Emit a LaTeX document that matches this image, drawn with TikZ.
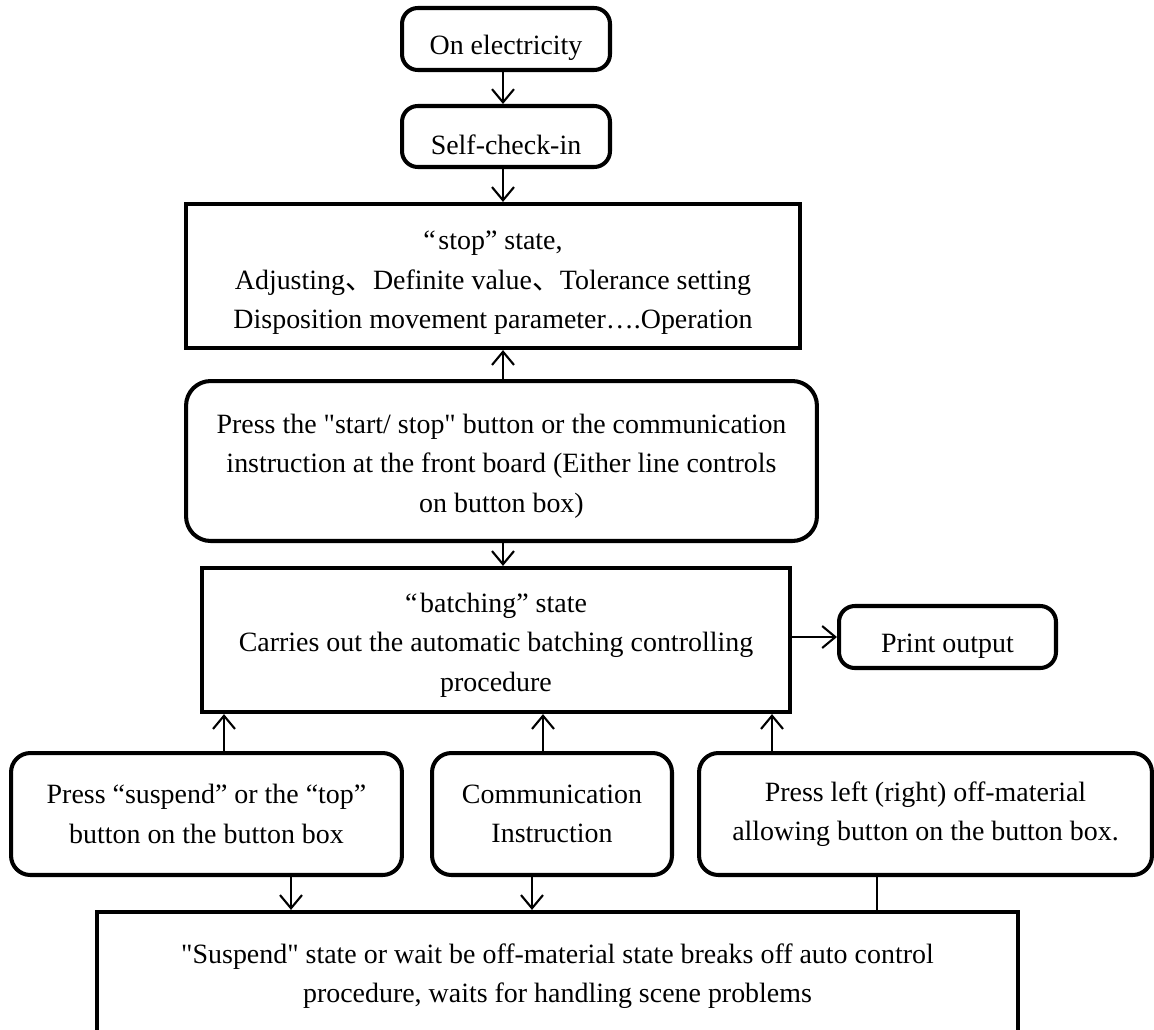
\documentclass[tikz,border=0pt]{standalone}
\usepackage{fontspec}
\newfontfamily\serifplain{Liberation Serif}
\newfontfamily\cjk{Noto Sans CJK SC}
\usetikzlibrary{arrows.meta}
\newcommand\dn[1]{\rule{0pt}{#1}}
\newcommand\wq{“\hspace{1.5pt}}
\begin{document}
\begin{tikzpicture}[x=0.02cm,y=-0.02cm,
  font={\serifplain\fontsize{15.9}{22.5}\selectfont},
  rbox/.style={draw, line width=2.3pt, rounded corners=9pt, align=center, inner sep=0pt},
  sbox/.style={draw, line width=2.4pt, align=center, inner sep=0pt},
  arr/.style={-{Straight Barb[length=7.5pt,width=12.5pt,line width=1.2pt]}, line width=1.2pt},
  plain/.style={line width=1.2pt},
]
\useasboundingbox (0,0) rectangle (1154,1029);

\node[rbox, minimum width=4.16cm, minimum height=1.24cm] (elec) at (506,39) {\dn{21.5pt}On electricity};
\node[rbox, minimum width=4.16cm, minimum height=1.22cm] (self) at (506,136.5) {\dn{20.5pt}Self-check-in};
\node[sbox, minimum width=12.28cm, minimum height=2.88cm] (stop) at (493,276)
  {\dn{18.5pt}\wq stop” state,\\Adjusting{\cjk 、}Definite value{\cjk 、}Tolerance setting\\Disposition movement parameter….Operation};
\node[rbox, rounded corners=14pt, minimum width=12.62cm, minimum height=3.2cm] (start) at (501.5,461)
  {\dn{16.5pt}Press the "start/ stop" button or the communication\\instruction at the front board (Either line controls\\on button box)};
\node[sbox, minimum width=11.76cm, minimum height=2.88cm] (batch) at (496,640)
  {\dn{16.5pt}\wq batching” state\\Carries out the automatic batching controlling\\procedure};
\node[rbox, minimum width=4.34cm, minimum height=1.24cm] (print) at (947.5,637) {\dn{20.5pt}Print output};
\node[rbox, rounded corners=11pt, minimum width=7.82cm, minimum height=2.44cm] (sus) at (206.5,814)
  {Press “suspend” or the “top”\\button on the button box};
\node[rbox, rounded corners=11pt, minimum width=4.8cm, minimum height=2.44cm] (comm) at (552,814)
  {Communication\\Instruction};
\node[rbox, rounded corners=11pt, minimum width=9.06cm, minimum height=2.44cm] (right) at (925.5,814)
  {Press left (right) off-material\\allowing button on the button box.};
\node[sbox, minimum width=18.42cm, minimum height=2.56cm] (bottom) at (557.5,976)
  {"Suspend" state or wait be off-material state breaks off auto control\\procedure, waits for handling scene problems};

\coordinate (cm) at (503,0);
\coordinate (ca) at (224,0);
\coordinate (cb) at (543,0);
\coordinate (cc) at (772,0);
\coordinate (cd) at (291,0);
\coordinate (ce) at (532,0);
\coordinate (cf) at (877,0);

\draw[arr] (cm |- elec.south) -- (cm |- self.north);
\draw[arr] (cm |- self.south) -- (cm |- stop.north);
\draw[arr] (cm |- start.north) -- (cm |- stop.south);
\draw[arr] (cm |- start.south) -- (cm |- batch.north);
\draw[arr] (print.west -| batch.east) -- (print.west);
\draw[arr] (ca |- sus.north) -- (ca |- batch.south);
\draw[arr] (cb |- comm.north) -- (cb |- batch.south);
\draw[arr] (cc |- right.north) -- (cc |- batch.south);
\draw[arr] (cd |- sus.south) -- (cd |- bottom.north);
\draw[arr] (ce |- comm.south) -- (ce |- bottom.north);
\draw[plain] (cf |- right.south) -- (cf |- bottom.north);
\end{tikzpicture}
\end{document}
